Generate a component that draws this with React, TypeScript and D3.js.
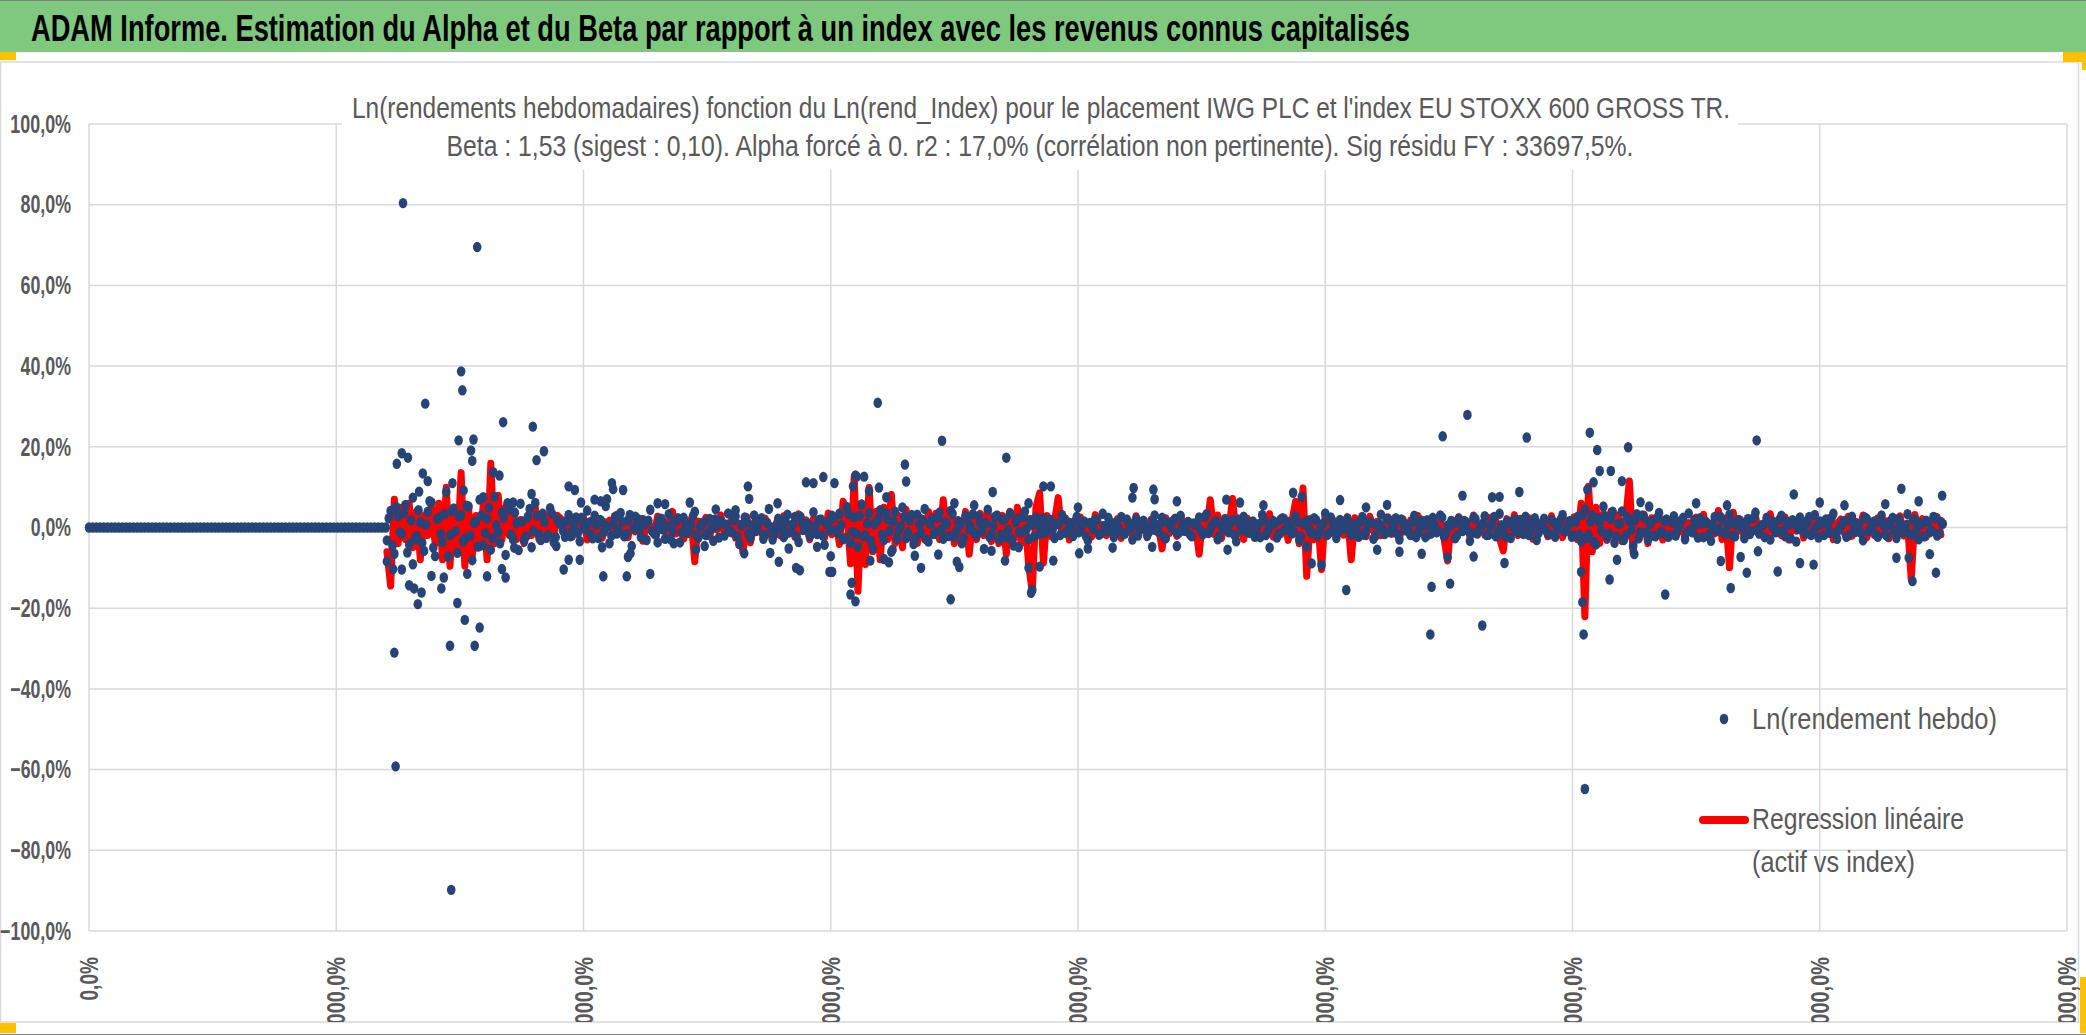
import React from "react";
import * as d3 from "d3";

const W = 2086;
const H = 1035;

const mainTitle =
  "ADAM Informe. Estimation du Alpha et du Beta par rapport à un index avec les revenus connus capitalisés";
const chartTitle1 =
  "Ln(rendements hebdomadaires) fonction du Ln(rend_Index) pour le placement IWG PLC et l'index EU STOXX 600 GROSS TR.";
const chartTitle2 =
  "Beta : 1,53 (sigest : 0,10). Alpha forcé à 0. r2 : 17,0% (corrélation non pertinente). Sig résidu FY : 33697,5%.";
const legendDots = "Ln(rendement hebdo)";
const legendLine = ["Regression linéaire", "(actif vs index)"];

// axes (x is the week number, shown by the sheet as a percentage)
const yTicks = [-100, -80, -60, -40, -20, 0, 20, 40, 60, 80, 100];
const xTicks = [0, 200, 400, 600, 800, 1000, 1200, 1400, 1600];

// weeks before the listing: the sheet carries 0 there
const zeroWeeksEnd = 240;
// sampled weekly series start at week 241, one value every 3 weeks
const firstWeek = 241;
const weekStep = 3;

// Ln(rendement hebdo), in %, bulk of the cloud (weeks 241, 244, ...)
const assetBand = [
  -3.2, 4.1, -6.5, 2.8, -1.5, 5.6, -4.2, 7.4, -2.1, 1.3, -5.8, 3.9, 6.2, -7.1, 2.4, -3.6, 8.8, -1.9, 4.7, -6.3,
  3.1, -2.7, 5.2, -8.1, 1.6, 6.9, -4.4, 2.2, -5.5, 7.6, -1.2, 3.8, -6.8, 4.5, -2.9, 1.1, 5.9, -3.3, 2.6, -4.9,
  6.1, -1.8, 3.4, -2.5, 4.8, -3.7, 2.0,
  1.2, -2.3, 3.1, -0.8, 2.5, -3.4, 0.6, 4.2, -1.7, 2.9, -2.6, 1.4, 5.3, -3.9, 0.9, -1.5, 3.6, -2.2, 1.8, -4.6,
  2.7, -0.5, 1.9, -3.1, 4.4, -1.1, 0.3, 2.2, -2.8, 3.3, -0.9, 1.6, -3.7, 2.4, -1.4, 0.7, 3.9, -2.5, 1.0, -1.9,
  2.1, -3.3, 0.4, 1.7, -2.0, 3.5, -1.2, 2.8, -4.1, 0.8, 1.5, -2.7, 3.0, -0.6, 2.3, -1.8, 4.6, -3.0, 0.2, 1.9,
  -2.4, 3.2, -1.0, 2.6, -3.6, 1.1, 0.5, -2.1, 3.8, -1.6, 2.0, -4.3, 1.3, 2.9, -0.7, 3.4, -2.9, 5.1, -3.8,
  2.5, -4.8, 5.7, -1.9, 3.6, -5.2, 1.4, 4.3, -3.1, 2.0, -6.0, 3.9, -0.8, 5.0, -2.6, 1.7, -4.1, 3.2, -1.3, 4.6,
  -3.5, 2.2, -1.1, 3.7, -2.8, 0.9, 4.1, -2.3, 1.5, -3.9, 2.8, -0.4, 3.3, -2.0, 1.0, -5.3, 4.4, -1.6, 2.7, -3.0,
  1.8, -2.4, 3.5, -4.5, 2.1, -1.2, 4.0, -2.9, 0.7, 2.4,
  -1.6, 2.3, -0.7, 1.9, -2.6, 0.8, 3.1, -1.3, 1.2, -2.1, 2.7, -0.4, 1.5, -3.2, 0.6, 2.0, -1.8, 3.4, -0.9, 1.3,
  -2.4, 0.5, 2.6, -1.5, 1.0, -3.0, 2.2, -0.6, 1.7, -2.0, 0.3, 3.0, -1.1, 2.4, -2.7, 0.9, 1.6, -1.4, 2.9, -0.8,
  1.4, -2.2, 0.7, 2.5, -1.7, 3.3, -0.5, 1.1, -2.9, 0.4, 2.1, -1.2, 1.8, -3.4, 0.6, 2.7, -1.0, 1.3, -2.3, 0.8,
  3.1, -1.9, 0.2, 1.6, -2.5, 2.0, -0.7, 1.4, -1.5, 2.8, -3.1, 0.9, 1.7, -1.1, 2.3, -2.0, 0.5, 3.5, -1.4, 1.0,
  -2.6, 1.9, -0.3, 2.2, -1.8,
  0.9, -2.3, 2.6, -1.0, 1.4, -2.8, 0.3, 3.2, -1.6, 1.9, -0.5, 2.3, -3.0, 1.1, 0.6, -1.9, 2.9, -1.3, 1.7, -2.4,
  0.8, 2.4, -1.2, 3.0, -2.1, 0.5, 1.6, -2.7, 2.1, -0.9, 1.3, -3.3, 2.5, -1.5, 0.2, 2.8, -1.8, 1.0, -2.2, 3.4,
  -0.7, 1.5, -2.6, 2.0, -1.1, 0.7, 2.7, -1.9, 1.2, -3.1, 0.4, 2.2, -1.4, 1.8, -2.3, 0.9, 3.1, -0.8, 1.6, -2.0,
  2.6, -3.4, 4.5, -1.8, 3.0, -4.2, 1.2, 5.2, -2.5, 2.1, -3.8, 0.9, 4.0, -2.0, 1.6, -4.6, 3.3, -1.1, 2.4, -3.0,
  1.5, -2.2, 3.6, -1.4, 2.0,
  -1.9, 2.8, -0.6, 1.7, -2.9, 3.5, -1.2, 0.8, 2.3, -2.4, 1.1, -3.3, 2.6, -0.4, 1.9, -1.6, 3.2, -2.1, 0.5, 1.4,
  -2.7, 2.1, -0.9, 3.7, -1.5, 0.6, 2.4, -3.0, 1.3, -1.0, 2.9, -2.2, 0.7, 1.8, -3.5, 2.5, -0.8, 1.2, -1.9, 3.1,
  -2.5, 0.9, 2.0, -1.3, 3.4, -2.8, 0.4, 1.6, -2.0, 2.7, -1.1, 0.8, -3.2, 2.2, -0.5, 1.5, -2.3, 3.0, -1.7, 0.6,
  2.4, -2.6, 1.1, -0.7, 3.3, -1.8, 2.0, -2.9, 0.9, 1.7, -1.2, 2.6, -2.0, 1.4,
];

// Ln(rendement hebdo), in %, the in-between weeks of the cloud (weeks 242.5, 245.5, ...)
const assetBandMid = [
  2.3, -4.5, 5.1, -1.2, 3.6, -6.2, 1.8, -2.9, 4.3, -3.8, 0.7, 6.5, -5.0, 2.1, -1.6, 3.3, -7.2, 4.0, -0.9, 2.7,
  -3.5, 5.4, -2.0, 1.1, -4.7, 3.0, -1.4, 4.9, -2.6, 0.5, -3.9, 2.4, 6.0, -1.7, 3.7, -5.6, 1.5, -2.2, 4.6, -0.8,
  2.9, -3.1, 1.3, -1.9, 3.4, -2.4, 1.0,
  -0.8, 1.6, -2.2, 0.9, -1.3, 2.4, -0.4, 1.2, -2.7, 0.6, 1.9, -1.1, 0.3, -2.0, 2.6, -0.7, 1.4, -1.6, 3.1, -0.2,
  1.0, -2.4, 0.8, 1.7, -0.9, -1.8, 2.1, -0.5, 0.4, -2.9, 1.5, 2.3, -1.2, 0.9, -0.6, 2.8, -1.9, 0.2, 1.3, -1.4,
  -0.3, 2.0, -2.5, 1.1, 0.7, -1.0, 1.8, -2.2, 0.5, 2.5, -1.5, 0.6, -0.9, 1.6, -2.8, 1.2, 0.1, -1.7, 2.2, -0.4,
  1.4, -1.2, 0.8, -2.3, 2.7, -0.6, 1.0, -1.5, 0.3, 1.9, -2.0, 0.9, -0.7, 2.4, -1.3, 0.6, -2.6, 3.3, -1.1,
  -1.5, 2.9, -2.2, 1.0, -3.4, 0.8, 2.2, -1.7, 3.6, -0.9, 1.5, -2.8, 0.4, 2.6, -1.2, 3.1, -2.5, 0.7, 1.8, -3.0,
  0.9, -1.6, 2.4, -0.5, 1.3, -2.1, 3.4, -1.0, 0.6, -2.6, 1.7, 0.2, -1.4, 2.8, -0.8, 1.1, -2.4, 0.5, 3.0, -1.8,
  2.0, -0.6, -2.9, 1.4, -1.1, 2.6, -0.3, 1.9, -2.2, 0.8,
  0.6, -1.4, 1.8, -0.5, 0.9, -1.9, 2.1, -0.8, 0.3, 1.5, -1.2, 0.7, -2.2, 1.1, -0.3, 1.9, -1.5, 0.4, 2.4, -1.0,
  1.2, -0.7, -1.6, 2.0, -0.4, 0.8, -2.0, 1.4, 0.2, -1.1, 1.7, -0.6, 0.9, -2.3, 1.3, -0.2, 2.2, -1.3, 0.5, -0.9,
  -1.7, 1.0, 0.4, -0.8, 2.6, -1.4, 0.6, 1.6, -2.1, 0.3, -0.5, 1.2, -1.8, 2.0, -0.7, 0.9, -1.3, 1.5, -0.1, -2.4,
  1.8, -0.9, 0.5, 1.1, -1.6, 2.3, -0.4, 0.7, -1.1, 1.4, -2.2, 0.8, 0.2, -1.5, 1.9, -0.6, 1.0, -1.9, 2.5, -0.3,
  -1.2, 0.6, 1.6, -0.8, 0.4,
  -0.6, 1.5, -1.8, 0.7, 1.2, -2.1, 0.9, -0.4, 2.2, -1.2, 0.5, -1.6, 2.0, -0.7, -1.0, 1.3, -2.4, 0.8, 0.3, 1.8,
  -1.5, 0.6, -0.9, 2.5, -1.3, 0.2, 1.1, -2.0, 0.7, 1.6, -0.8, -1.4, 2.1, -0.5, 1.0, -1.9, 0.4, 2.6, -1.1, 0.6,
  -2.2, 1.2, 0.3, -0.9, 1.9, -1.6, 0.8, -0.2, 2.3, -1.4, 1.1, -0.7, -1.7, 1.4, -0.4, 2.0, -1.0, 0.5, -2.3, 1.3,
  -1.8, 3.2, -2.6, 1.4, -3.6, 2.3, -0.9, 2.8, -1.5, 3.9, -2.2, 1.0, -3.1, 2.5, -0.6, 1.7, -2.7, 3.0, -1.2, 0.8,
  -2.0, 2.4, -1.0, 1.6, -2.3,
  1.3, -2.0, 0.7, 2.4, -1.1, -0.5, 1.8, -2.5, 0.9, 1.5, -1.7, 0.4, -0.9, 2.7, -1.4, 0.6, 1.2, -2.2, 1.9, -0.3,
  1.0, -1.6, 2.3, -0.7, 0.5, -2.4, 1.6, 0.2, -1.2, 2.0, -0.8, 1.4, -2.7, 0.9, -0.4, 1.7, -1.5, 2.6, -1.0, 0.3,
  1.5, -1.9, 0.6, 2.2, -1.3, -0.6, 1.1, -2.3, 1.8, -0.5, 0.8, -1.4, 2.5, -0.9, 0.4, -1.8, 1.3, 0.7, -2.1, 1.6,
  -0.7, 2.1, -1.2, 0.5, -1.6, 1.9, -0.4, 1.0, -2.2, 1.4, -0.8, 2.4, -1.5, 0.9,
];

// Ln(rendement hebdo), in %, the scattered weeks outside the cloud: [week, value]
const assetOutliers: [number, number][] = [
  [254, 80.4], [314, 69.5], [301, 38.7], [302, 34.0], [272, 30.7], [335, 26.1], [359, 25.0], [299, 21.6],
  [311, 21.8], [309, 19.1], [310, 16.5], [368, 18.9], [362, 16.7], [253, 18.4], [258, 17.3], [249, 15.8],
  [270, 13.4], [274, 11.5], [267, 8.9], [294, 11.0], [303, 9.2], [327, 13.7], [332, 12.9], [319, 7.5],
  [358, 8.3], [388, 10.2], [393, 9.3],
  [247, -31.0], [248, -59.2], [293, -89.8], [292, -29.3], [312, -29.3], [316, -24.8], [304, -22.9],
  [298, -18.7], [266, -19.0], [269, -16.1], [259, -14.3], [263, -15.1], [285, -15.1], [241, -8.4],
  [246, -10.3], [253, -10.4], [277, -12.0], [287, -12.4], [306, -11.5], [322, -12.1], [337, -12.4],
  [334, -10.3], [262, -9.1], [384, -10.4], [388, -8.0], [397, -8.0],
  [415, -4.9], [416, -12.1], [435, -12.1], [454, -11.5], [436, -7.3], [438, -6.4], [423, 11.0], [424, 9.5],
  [432, 9.3], [533, 10.2], [534, 7.1], [557, 6.0], [580, 11.2], [586, 11.0], [594, 12.5], [603, 11.0],
  [620, 12.9], [618, 10.2], [530, -6.4], [558, -8.5], [572, -10.0], [575, -10.6], [599, -11.0], [601, -11.0],
  [616, -16.6], [620, -18.3], [617, -13.7],
  [343, 6.2], [398, 6.2], [409, 6.9], [414, 6.5], [419, 7.0], [486, 6.2], [507, 4.5], [460, 6.0], [466, 5.8],
  [523, 4.3], [344, -5.0], [378, -4.6], [491, -5.5], [551, -6.3], [600, -7.1], [460, -3.7], [498, -4.6],
  [473, -3.9], [566, -5.2], [589, -4.8],
  [638, 30.9], [690, 21.5], [742, 17.3], [660, 15.6], [661, 11.4], [621, 12.6], [627, 12.6], [639, 9.9],
  [631, 9.0], [645, 7.5], [772, 10.2], [778, 10.2], [731, 8.8], [845, 9.8], [844, 7.4], [861, 9.4], [862, 7.0],
  [920, 6.9], [974, 8.6], [981, 7.6], [1012, 6.8], [880, 6.5], [931, 6.2], [700, 6.0], [716, 5.5], [760, 6.0],
  [800, 5.0], [950, 5.5],
  [697, -17.8], [763, -15.5], [762, -16.2], [760, -10.0], [769, -9.7], [741, -8.2], [780, -8.2], [704, -9.8],
  [702, -8.5], [673, -10.0], [647, -8.6], [668, -7.0], [687, -6.7], [643, -7.8], [632, -8.2], [601, -11.0],
  [801, -6.4], [808, -5.2], [828, -5.0], [1017, -15.5], [989, -8.9], [997, -9.3], [921, -5.5], [955, -5.0],
  [860, -4.8], [880, -4.6], [985, -4.7], [730, -5.8], [752, -4.9], [650, -5.5],
  [1115, 27.9], [1095, 22.6], [1163, 22.3], [1214, 23.5], [1220, 19.2], [1245, 19.9], [1349, 21.6],
  [1222, 14.0], [1231, 14.0], [1240, 11.5], [1217, 11.2], [1212, 9.4], [1466, 9.6], [1499, 7.9], [1379, 8.2],
  [1111, 7.9], [1135, 7.5], [1141, 7.6], [1157, 8.8], [1050, 5.6], [1300, 6.0], [1325, 5.5], [1400, 6.2],
  [1420, 5.5], [1453, 5.8], [1480, 6.5], [1255, 6.3], [1262, 5.2], [1033, 5.0],
  [1210, -64.8], [1209, -26.5], [1208, -18.5], [1207, -11.0], [1085, -26.5], [1127, -24.3], [1086, -14.7],
  [1101, -13.9], [1230, -12.9], [1275, -16.6], [1328, -15.0], [1475, -13.3], [1494, -11.2], [1341, -11.2],
  [1366, -10.9], [1395, -9.2], [1384, -8.8], [1145, -8.8], [1099, -7.4], [1078, -6.5], [1120, -7.2],
  [1236, -8.0], [1250, -6.6], [1462, -7.5], [1472, -7.5], [1320, -8.3], [1336, -7.3], [1042, -5.5],
  [1060, -6.0], [1350, -5.9], [1489, -6.6],
];

// Regression linéaire (beta x index), in %, same weeks as assetBand
const regression = [
  -6, -14.5, 7, -4, 5, -3, 6, -5, 4, -8, 3, -2, 5, -4, 6, -8, 10, -9.6, 4, -6,
  13.6, -9.6, 5, -7, 3, -5, 6, -8, 15.9, -4, 8, -3, 5, -2, 4, -3, 2, -4, 3, -2,
  5, -3, 2, -3, 4, -2, 3,
  2.1, -1.5, 3.0, -2.4, 1.2, -0.8, 2.6, -3.1, 1.7, -1.0, 2.2, -2.7, 0.9, 1.8, -2.0, 3.3, -1.4, 0.6, -2.5, 1.9,
  -1.1, 2.4, -3.4, 1.0, 0.5, -1.9, 2.8, -0.7, 1.5, -2.2, 4.0, -1.6, 0.8, -2.9, 1.3, 2.0, -8.5, 1.6, -1.2, 2.5,
  -2.3, 1.4, -0.6, 3.1, -1.8, 0.7, 2.0, -2.6, 1.1, -6.3, 2.7, -3.8, 0.9, 1.6, -1.5, 2.3, -0.4, -2.8, 1.2, -2.0,
  2.9, -1.7, 0.8, -2.4, 3.4, -1.0, 1.9, -3.0, 2.2, -0.9, 1.4, -2.6, 3.6, -1.8, 2.5, -4.2, 6.5, 4.0, -9.0,
  12.7, -15.8, 6, -9.2, 9.9, -6, 4, -8, 5, -3, 8.2, -4, 3, -5, 4.5, -2.5, 3, -4, 2.5, -3,
  4, -2, 3.5, -3, 6.9, -2.5, 3, -4, 2, -3.5, 4, -6.6, 2.5, -3, 3.5, -2, 4.5, -3.5, 2, -4,
  3, -6.6, 4, -3, 5, -4, 3, -9, -16.1, 5,
  8.6, -8.8, 3.0, -2.2, 1.5, 7.4, -1.8, 2.4, -3.1, 1.2, -0.9, 2.6, -1.6, 1.0, -2.4, 3.2, -1.1, 0.7, -2.0, 1.8,
  -1.3, 2.2, -2.7, 0.8, 1.6, -1.9, 2.9, -0.6, 1.3, -2.5, 2.0, -1.0, 0.5, -5.3, 2.4, -1.5, 1.1, -2.2, 3.0, -0.8,
  1.7, -2.3, 0.9, -6.6, 2.6, -1.2, 6.9, -1.7, 3.1, -2.8, 1.4, -0.7, 7.2, -2.0, 1.2, -3.0, 2.3, -1.4, 0.6, -2.6,
  2.0, -1.1, 3.4, -2.4, 1.0, -1.8, 2.5, -3.2, 1.5, 6.5, -4.0, 9.8, -12.1, 2.2, -3.0, 1.4, -10.4, 3.6, -1.6, 2.1,
  -2.5, 1.3, -1.9, 2.7, -8.0,
  2.4, -1.6, 1.1, -2.3, 2.8, -0.9, 1.5, -2.0, 0.7, 2.6, -1.7, 1.2, -2.8, 2.1, -0.6, 1.8, -2.4, 3.0, -1.3, 0.8,
  -2.1, 2.3, -1.0, 1.6, -2.6, -8.3, 2.0, -1.4, 2.7, -0.8, 1.3, -2.2, 3.1, -1.5, 0.9, -1.9, 2.5, -1.2, 1.7, -2.7,
  -5.8, 2.2, -1.1, 3.2, -2.0, 1.0, -1.6, 2.4, -2.9, 1.5, -0.7, 2.0, -2.3, 2.9, -1.2, 1.4, -2.5, 1.8, -1.0, 2.6,
  -3.0, 6.0, -22.1, 10.2, -6.0, 5.0, -4.0, 3.5, -3.2, 4.0, -2.5, 3.0, -3.5, 2.2, 11.5, -6.2, 2.8, -2.0, 3.3, -4.0,
  2.4, -1.8, 2.7, -3.1, 1.9,
  -2.2, 3.0, -1.4, 2.1, -2.9, 1.2, -0.8, 2.6, -1.9, 3.3, -2.5, 1.0, -1.6, 4.2, -3.0, 2.4, -10.0, 3.8, -1.2, 2.0,
  -2.7, 1.5, -0.6, 2.9, -1.8, 1.1, -2.4, 3.4, -1.3, 0.7, -2.0, 2.6, -3.1, 1.4, -0.9, 2.2, -2.6, 1.8, -1.1, 3.0,
  -2.3, 1.2, -1.7, 2.5, -3.0, 0.9, 2.1, -1.5, 2.8, -2.2, 1.6, -0.8, 3.1, -2.6, 1.3, -1.9, 2.4, -1.0, 1.7, -2.8,
  2.0, -1.4, 2.9, -2.1, 1.1, -12.9, 3.2, -1.6, 2.2, -2.5, 1.5, -1.0, 2.7, -1.8,
];

const NAVY = "#264478";
const RED = "#ff0000";
const GREY_TEXT = "#595959";
const GRID = "#d9d9d9";
const FONT = "'Liberation Sans', 'Roboto', sans-serif";

const fmtPct = (v: number) => d3.format(".1f")(v).replace(".", ",") + "%";

// the sheet's labels use a narrow face; fit their width per glyph
const narrowW: Record<string, number> = { "-": 6.2, ",": 5.2, "%": 14.7 };
const labelWidth = (s: string) => s.split("").reduce((a, c) => a + (narrowW[c] ?? 10.2), 0);
const xLabelW: Record<string, number> = { ",": 5.5, "%": 15 };
const xLabelWidth = (s: string) => s.split("").reduce((a, c) => a + (xLabelW[c] ?? 11.5), 0);

export default function App() {
  const margin = { left: 89, right: W - 2067, top: 124, bottom: H - 931 };

  const x = d3.scaleLinear().domain([0, 1600]).range([margin.left, W - margin.right]);
  const y = d3.scaleLinear().domain([-100, 100]).range([H - margin.bottom, margin.top]);

  const zeroPoints = d3.range(0, zeroWeeksEnd + 1, weekStep).map((w) => ({ w, v: 0 }));
  const bandPoints = assetBand.map((v, i) => ({ w: firstWeek + i * weekStep, v }));
  const midPoints = assetBandMid.map((v, i) => ({ w: firstWeek + 1.5 + i * weekStep, v }));
  const outlierPoints = assetOutliers.map(([w, v]) => ({ w, v }));
  const dots = [...zeroPoints, ...bandPoints, ...midPoints, ...outlierPoints];

  const regPoints = regression.map((v, i) => ({ w: firstWeek + i * weekStep, v }));
  const line = d3
    .line<{ w: number; v: number }>()
    .x((d) => x(d.w))
    .y((d) => y(d.v));

  const plotBottom = y(-100);
  const plotTop = y(100);

  return (
    <svg
      width={W}
      height={H}
      style={{ position: "absolute", left: 0, top: 0, background: "#fff" }}
      fontFamily={FONT}
    >
      <defs>
        <clipPath id="xlab">
          <rect x={0} y={plotBottom} width={W} height={1022 - plotBottom} />
        </clipPath>
      </defs>

      {/* banner */}
      <rect x={0} y={0} width={W} height={52} fill="#7fc97f" />
      <line x1={0} x2={W} y1={0.5} y2={0.5} stroke="#7f7f7f" />
      <text
        x={31}
        y={41}
        fontSize={37}
        fontWeight="bold"
        fill="#000"
        textLength={1379}
        lengthAdjust="spacingAndGlyphs"
      >
        {mainTitle}
      </text>

      {/* chart area frame */}
      <rect x={0.5} y={62} width={2078} height={960} fill="#fff" stroke={GRID} strokeWidth={1.5} />

      {/* gridlines */}
      <g stroke={GRID} strokeWidth={1.5}>
        {yTicks.map((t) => (
          <line key={"gy" + t} x1={x(0)} x2={x(1600)} y1={y(t)} y2={y(t)} />
        ))}
        {xTicks.map((t) => (
          <line key={"gx" + t} x1={x(t)} x2={x(t)} y1={plotTop} y2={plotBottom} />
        ))}
      </g>

      {/* title box hides the grid behind it */}
      <rect x={342} y={86} width={1396} height={84} fill="#fff" />
      <text x={1041} y={118} fontSize={30} fill={GREY_TEXT} textAnchor="middle" textLength={1378} lengthAdjust="spacingAndGlyphs">
        {chartTitle1}
      </text>
      <text x={1040} y={156} fontSize={30} fill={GREY_TEXT} textAnchor="middle" textLength={1187} lengthAdjust="spacingAndGlyphs">
        {chartTitle2}
      </text>

      {/* y axis labels */}
      <g fontSize={25} fontWeight="bold" fill={GREY_TEXT} textAnchor="end">
        {yTicks.map((t) => (
          <text
            key={"ty" + t}
            x={71}
            y={y(t)}
            dy="0.35em"
            textLength={labelWidth(fmtPct(t))}
            lengthAdjust="spacingAndGlyphs"
          >
            {fmtPct(t)}
          </text>
        ))}
      </g>

      {/* x axis labels, rotated and cut by the chart frame */}
      <g fontSize={26} fontWeight="bold" fill={GREY_TEXT} textAnchor="end" clipPath="url(#xlab)">
        {xTicks.map((t) => (
          <text
            key={"tx" + t}
            transform={`translate(${x(t)},${plotBottom + 26}) rotate(-90)`}
            dy="0.35em"
            textLength={xLabelWidth(fmtPct(t * 100))}
            lengthAdjust="spacingAndGlyphs"
          >
            {fmtPct(t * 100)}
          </text>
        ))}
      </g>

      {/* series */}
      <path
        d={line(regPoints) ?? ""}
        fill="none"
        stroke={RED}
        strokeWidth={7}
        strokeLinejoin="round"
        strokeLinecap="round"
      />
      <g fill={NAVY}>
        {dots.map((d, i) => (
          <ellipse key={i} cx={x(d.w)} cy={y(d.v)} rx={4.3} ry={5.2} />
        ))}
      </g>

      {/* legend */}
      <g fontSize={29} fill={GREY_TEXT}>
        <ellipse cx={1724} cy={719} rx={4.3} ry={5.2} fill={NAVY} />
        <text x={1752} y={729} textLength={245} lengthAdjust="spacingAndGlyphs">
          {legendDots}
        </text>
        <line x1={1703} x2={1745} y1={820} y2={820} stroke={RED} strokeWidth={8} strokeLinecap="round" />
        <text x={1752} y={829} textLength={212} lengthAdjust="spacingAndGlyphs">
          {legendLine[0]}
        </text>
        <text x={1752} y={872} textLength={163} lengthAdjust="spacingAndGlyphs">
          {legendLine[1]}
        </text>
      </g>

      {/* sheet handles */}
      <g fill="#ffc000">
        <rect x={0} y={52} width={16} height={8} />
        <rect x={2063} y={52} width={23} height={10} />
        <rect x={2082} y={52} width={4} height={18} />
        <rect x={0} y={1023} width={16} height={10} />
        <rect x={2080} y={977} width={6} height={56} />
      </g>
      <line x1={0} x2={W} y1={1034.5} y2={1034.5} stroke="#7f7f7f" />
    </svg>
  );
}
